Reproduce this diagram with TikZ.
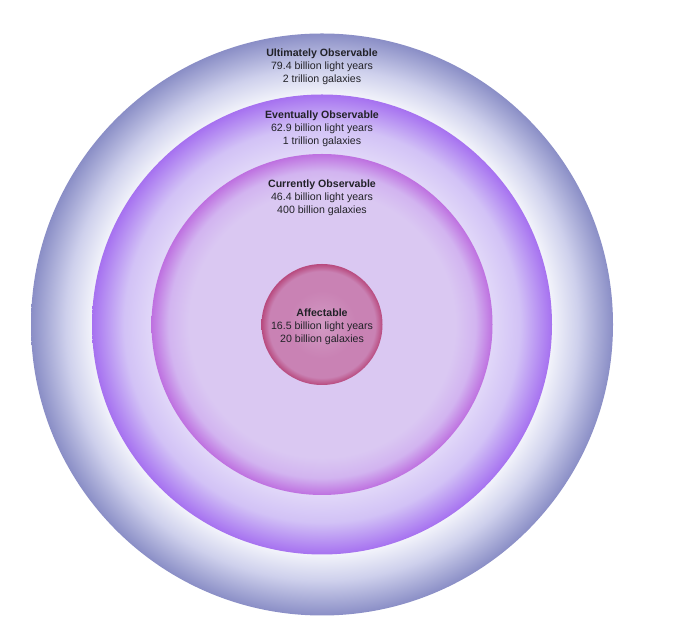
\documentclass[tikz,border=0pt]{standalone}
\usepackage{fontspec}
\setmainfont{Liberation Sans}
\usepackage{tikz}
\usetikzlibrary{positioning, calc}
\definecolor{ultedge}{RGB}{138, 142, 198}
\definecolor{ultmid}{RGB}{206, 208, 236}
\definecolor{ultin}{RGB}{246, 247, 252}
\definecolor{evedge}{RGB}{166, 113, 240}
\definecolor{evmid}{RGB}{210, 194, 246}
\definecolor{evin}{RGB}{232, 226, 249}
\definecolor{curedge}{RGB}{190, 112, 224}
\definecolor{curmid}{RGB}{210, 180, 240}
\definecolor{curin}{RGB}{218, 200, 242}
\definecolor{affedge}{RGB}{184, 74, 126}
\definecolor{affmid}{RGB}{201, 130, 180}
\definecolor{affin}{RGB}{210, 154, 196}
\definecolor{labeltext}{RGB}{34, 34, 40}

\pgfdeclareradialshading{ultshade}{\pgfpoint{0bp}{0bp}}{%
  color(0bp)=(ultin); color(19.5bp)=(ultin); color(22bp)=(ultmid);
  color(25bp)=(ultedge); color(50bp)=(ultedge)}
\pgfdeclareradialshading{evshade}{\pgfpoint{0bp}{0bp}}{%
  color(0bp)=(evin); color(17bp)=(evin); color(21.5bp)=(evmid);
  color(25bp)=(evedge); color(50bp)=(evedge)}
\pgfdeclareradialshading{curshade}{\pgfpoint{0bp}{0bp}}{%
  color(0bp)=(curin); color(19.5bp)=(curin); color(22.5bp)=(curmid);
  color(25bp)=(curedge); color(50bp)=(curedge)}
\pgfdeclareradialshading{affshade}{\pgfpoint{0bp}{0bp}}{%
  color(0bp)=(affin); color(14bp)=(affmid); color(22bp)=(affmid);
  color(25bp)=(affedge); color(50bp)=(affedge)}

\begin{document}
\begin{tikzpicture}[
  x=1pt, y=1pt,
  sphere/.style={circle, inner sep=0pt, minimum size=#1, draw=none},
  txt/.style={align=center, inner sep=0pt, text=labeltext,
              font=\fontsize{10.6}{13}\selectfont},
]
\useasboundingbox (0,0) rectangle (680,631);
\fill[white] (0,0) rectangle (680,631);

% Spheres
\node[sphere=582pt, shading=ultshade] (ult) at (322,306.5) {};
\node[sphere=460pt, shading=evshade] (ev) at (ult.center) {};
\node[sphere=341pt, shading=curshade] (cur) at (ult.center) {};
\node[sphere=121pt, shading=affshade] (aff) at (ult.center) {};

% Labels
\node[txt] (ultlbl) at ([yshift=-33pt]ult.north)
  {\textbf{Ultimately Observable}\\79.4 billion light years\\2 trillion galaxies};
\node[txt] (evlbl) at ([yshift=-34pt]ev.north)
  {\textbf{Eventually Observable}\\62.9 billion light years\\1 trillion galaxies};
\node[txt] (curlbl) at ([yshift=-44pt]cur.north)
  {\textbf{Currently Observable}\\46.4 billion light years\\400 billion galaxies};
\node[txt] (afflbl) at ([yshift=-2.5pt]aff.center)
  {\textbf{Affectable}\\16.5 billion light years\\20 billion galaxies};

\end{tikzpicture}
\end{document}
